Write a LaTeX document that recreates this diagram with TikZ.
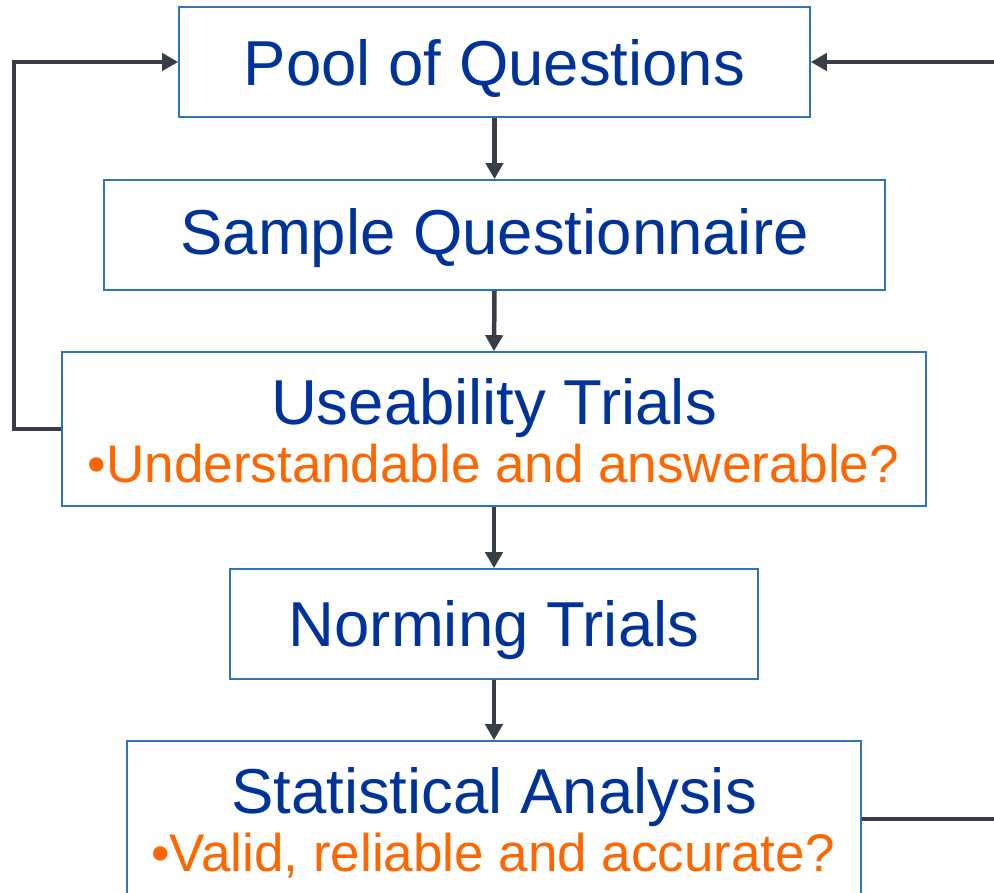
\documentclass[tikz,border=0pt]{standalone}
\usepackage{fontspec}
\setmainfont{Liberation Sans}
\usetikzlibrary{arrows.meta}
\definecolor{boxblue}{HTML}{2E75B6}
\definecolor{txtblue}{HTML}{003399}
\definecolor{txtorange}{HTML}{FF6600}
\definecolor{linegray}{HTML}{383D47}
\begin{document}
\begin{tikzpicture}[x=1pt,y=1pt,
  stagebox/.style={draw=boxblue,line width=1.6pt,fill=white,inner sep=0pt},
  maintext/.style={anchor=base,inner sep=0pt,text=txtblue,font=\fontsize{63.5}{70}\selectfont},
  subtext/.style={anchor=base,inner sep=0pt,text=txtorange,font=\fontsize{53}{60}\selectfont},
  flow/.style={draw=linegray,line width=4.5pt,-{Triangle[length=16pt,width=17pt]}},
  plainflow/.style={draw=linegray,line width=4.5pt}]
\useasboundingbox (0,0) rectangle (994,893);
\clip (0,0) rectangle (994,893);
% boxes
\node[stagebox,minimum width=631pt,minimum height=110pt] (b1) at (494.5,831) {};
\node[stagebox,minimum width=781pt,minimum height=110pt] (b2) at (494.5,658) {};
\node[stagebox,minimum width=864pt,minimum height=154pt] (b3) at (494,464) {};
\node[stagebox,minimum width=528pt,minimum height=110pt] (b4) at (494,269) {};
\node[stagebox,minimum width=734pt,minimum height=154pt] (b5) at (494,75) {};
% texts
\node[maintext] (t1) at (494.5,807.3) {Pool of Questions};
\node[maintext] (t2) at (494.5,638) {Sample Questionnaire};
\node[maintext] (t3) at (494,468) {Useability Trials};
\node[subtext] (s3) at (493.5,410) {•Understandable and answerable?};
\node[maintext] (t4) at (494,246.3) {Norming Trials};
\node[maintext] (t5) at (494,79) {Statistical Analysis};
\node[subtext] (s5) at (493,21.3) {•Valid, reliable and accurate?};
% connectors
\draw[flow] (b1.south) -- (b2.north);
\draw[flow] (b2.south) -- (b3.north);
\draw[flow] (b3.south) -- (b4.north);
\draw[flow] (b4.south) -- (b5.north);
\coordinate (lc) at (14,464);
\coordinate (lt) at (14,831);
\draw[flow] (b3.west) -- (lc) -- (lt) -- (b1.west);
\coordinate (re) at (996,831);
\draw[flow] (re) -- (b1.east);
\coordinate (rb) at (996,74);
\draw[plainflow] (b5.east |- rb) -- (rb);
\end{tikzpicture}
\end{document}
